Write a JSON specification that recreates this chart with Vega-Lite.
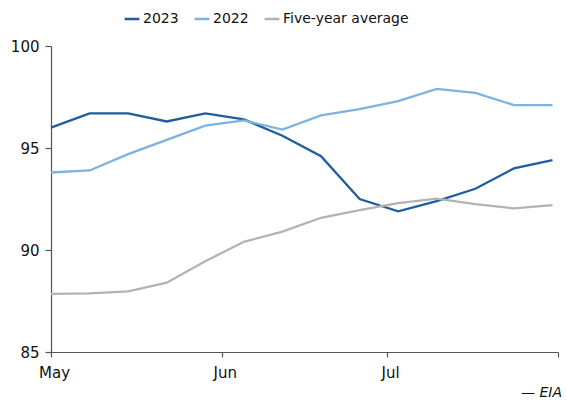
{
  "$schema": "https://vega.github.io/schema/vega-lite/v6.json",
  "width": 507,
  "height": 306,
  "autosize": {"type": "none"},
  "padding": {"left": 51, "top": 46, "right": 8, "bottom": 50},
  "background": "white",
  "config": {
    "view": {"stroke": null},
    "font": "DejaVu Sans",
    "axis": {"grid": false, "domainColor": "#555", "tickColor": "#555", "labelColor": "#111", "labelFont": "DejaVu Sans", "labelFontSize": 15, "domainWidth": 1.2, "tickWidth": 1.2}
  },
  "title": {
    "text": "— EIA",
    "orient": "bottom",
    "anchor": "end",
    "frame": "group",
    "font": "DejaVu Sans",
    "fontSize": 14,
    "fontStyle": "italic",
    "fontWeight": "normal",
    "color": "#111",
    "offset": 6,
    "dx": 4
  },
  "data": {
    "values": [
      {"date": "2023-05-01", "series": "2023", "value": 96.0},
      {"date": "2023-05-08", "series": "2023", "value": 96.7},
      {"date": "2023-05-15", "series": "2023", "value": 96.7},
      {"date": "2023-05-22", "series": "2023", "value": 96.3},
      {"date": "2023-05-29", "series": "2023", "value": 96.7},
      {"date": "2023-06-05", "series": "2023", "value": 96.4},
      {"date": "2023-06-12", "series": "2023", "value": 95.6},
      {"date": "2023-06-19", "series": "2023", "value": 94.6},
      {"date": "2023-06-26", "series": "2023", "value": 92.5},
      {"date": "2023-07-03", "series": "2023", "value": 91.9},
      {"date": "2023-07-10", "series": "2023", "value": 92.4},
      {"date": "2023-07-17", "series": "2023", "value": 93.0},
      {"date": "2023-07-24", "series": "2023", "value": 94.0},
      {"date": "2023-07-31", "series": "2023", "value": 94.4},
      {"date": "2023-05-01", "series": "2022", "value": 93.8},
      {"date": "2023-05-08", "series": "2022", "value": 93.9},
      {"date": "2023-05-15", "series": "2022", "value": 94.7},
      {"date": "2023-05-22", "series": "2022", "value": 95.4},
      {"date": "2023-05-29", "series": "2022", "value": 96.1},
      {"date": "2023-06-05", "series": "2022", "value": 96.35},
      {"date": "2023-06-12", "series": "2022", "value": 95.9},
      {"date": "2023-06-19", "series": "2022", "value": 96.6},
      {"date": "2023-06-26", "series": "2022", "value": 96.9},
      {"date": "2023-07-03", "series": "2022", "value": 97.3},
      {"date": "2023-07-10", "series": "2022", "value": 97.9},
      {"date": "2023-07-17", "series": "2022", "value": 97.7},
      {"date": "2023-07-24", "series": "2022", "value": 97.1},
      {"date": "2023-07-31", "series": "2022", "value": 97.1},
      {"date": "2023-05-01", "series": "Five-year average", "value": 87.85},
      {"date": "2023-05-08", "series": "Five-year average", "value": 87.87},
      {"date": "2023-05-15", "series": "Five-year average", "value": 87.97},
      {"date": "2023-05-22", "series": "Five-year average", "value": 88.4},
      {"date": "2023-05-29", "series": "Five-year average", "value": 89.45},
      {"date": "2023-06-05", "series": "Five-year average", "value": 90.4},
      {"date": "2023-06-12", "series": "Five-year average", "value": 90.9},
      {"date": "2023-06-19", "series": "Five-year average", "value": 91.58},
      {"date": "2023-06-26", "series": "Five-year average", "value": 91.95},
      {"date": "2023-07-03", "series": "Five-year average", "value": 92.3},
      {"date": "2023-07-10", "series": "Five-year average", "value": 92.52},
      {"date": "2023-07-17", "series": "Five-year average", "value": 92.25},
      {"date": "2023-07-24", "series": "Five-year average", "value": 92.04},
      {"date": "2023-07-31", "series": "Five-year average", "value": 92.2}
    ]
  },
  "mark": {"type": "line", "strokeWidth": 2.3, "interpolate": "linear"},
  "encoding": {
    "x": {
      "field": "date",
      "type": "temporal",
      "scale": {"domain": [{"year": 2023, "month": 5, "date": 1}, {"year": 2023, "month": 8, "date": 1}]},
      "axis": {
        "title": null,
        "values": [{"year": 2023, "month": 5, "date": 1}, {"year": 2023, "month": 6, "date": 1}, {"year": 2023, "month": 7, "date": 1}, {"year": 2023, "month": 8, "date": 1}],
        "labelExpr": "month(datum.value) == 7 ? '' : timeFormat(datum.value, '%b')",
        "tickSize": 5,
        "labelPadding": 8,
        "labelOffset": 3,
        "labelFlush": false,
        "labelOverlap": false
      }
    },
    "y": {
      "field": "value",
      "type": "quantitative",
      "scale": {"domain": [85, 100], "nice": false, "zero": false},
      "axis": {"title": null, "values": [85, 90, 95, 100], "tickSize": 6, "labelPadding": 6}
    },
    "color": {
      "field": "series",
      "type": "nominal",
      "sort": ["2023", "2022", "Five-year average"],
      "scale": {"domain": ["2023", "2022", "Five-year average"], "range": ["#1f5e9e", "#7db3e0", "#b3b3b3"]},
      "legend": {
        "title": null,
        "orient": "none",
        "direction": "horizontal",
        "legendX": 72,
        "legendY": -36,
        "symbolType": "stroke",
        "symbolSize": 220,
        "symbolStrokeWidth": 2.5,
        "labelFontSize": 14,
        "labelColor": "#111",
        "labelFont": "DejaVu Sans",
        "labelOffset": 2,
        "columnPadding": 10,
        "symbolOffset": 0
      }
    }
  }
}
